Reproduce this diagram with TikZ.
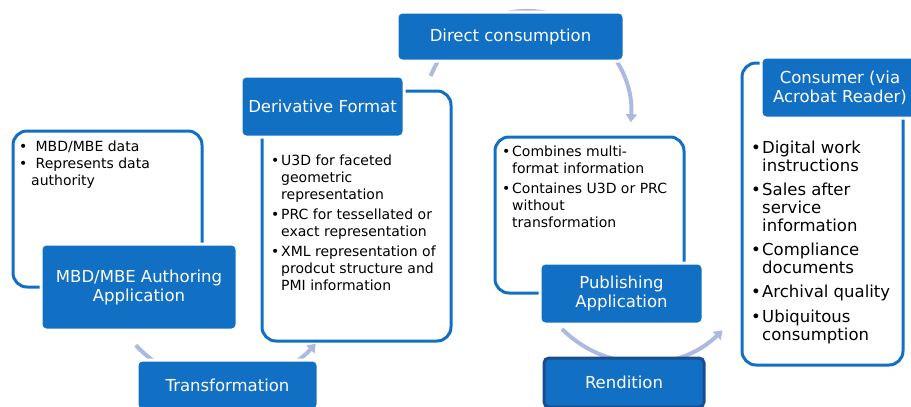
\documentclass[tikz,border=0pt]{standalone}
\usepackage{fontspec}
\setmainfont{DejaVu Sans}
\usetikzlibrary{arrows.meta}

\definecolor{boxblue}{RGB}{17,112,196}
\definecolor{arcblue}{RGB}{172,186,224}
\definecolor{rimblue}{RGB}{24,78,142}

% bullet and hanging indent of the lists
\newcommand\bul[1][10pt]{\makebox[#1][l]{\textbullet}}
\newcommand\hang[1][10pt]{\hspace*{#1}}

\begin{document}
\begin{tikzpicture}[x=1pt, y=-1pt,
    titlebox/.style={rectangle, rounded corners=5pt, fill=boxblue, draw=white,
      line width=3pt, text=white, align=center, inner sep=0pt,
      font=\fontsize{16.5}{19}\selectfont},
    infobox/.style={rectangle, rounded corners=14pt, draw=boxblue,
      line width=3pt, inner sep=0pt},
    infotext/.style={anchor=north west, align=left, inner sep=0pt,
      font=\fontsize{14}{17}\selectfont},
    flow/.style={arcblue, line width=4pt, -{Triangle[length=8pt,width=11pt]}}]

  \useasboundingbox (0,0) rectangle (911,407);

  % 1. Arcos entre as etapas (ficam por baixo das caixas)
  \coordinate (trStart) at (135.8,345.2);
  \coordinate (dcStart) at (430.6,76);
  \coordinate (rdStart) at (562,329);
  \draw [flow] (trStart) arc[start angle=137, end angle=42, radius=122];
  \draw [flow] (dcStart) arc[start angle=202, end angle=364, radius=104];
  \draw [flow] (rdStart) arc[start angle=135, end angle=46, radius=114.5];

  % 2. Caixas de contorno com as listas
  \node [infobox, minimum width=189pt, minimum height=156pt] (authInfo)  at (107.5,209) {};
  \node [infobox, minimum width=189pt, minimum height=250pt] (derivInfo) at (356.5,216) {};
  \node [infobox, minimum width=189pt, minimum height=156pt] (publInfo)  at (589.5,215) {};
  \node [infobox, minimum width=161pt, minimum height=302pt] (consInfo)  at (822.5,214) {};

  \node [infotext] (authText) at (19,141) {%
    \bul[12pt]\ MBD/MBE data\\
    \bul[12pt]\ Represents data\\
    \hang[12pt]authority};
  \node [infotext] (derivText) at (271,155) {%
    \bul U3D for faceted\\
    \hang geometric\\
    \hang representation\\[3pt]
    \bul PRC for tessellated or\\
    \hang exact representation\\[3pt]
    \bul XML representation of\\
    \hang prodcut structure and\\
    \hang PMI information};
  \node [infotext] (publText) at (502,146) {%
    \bul Combines multi-\\
    \hang format information\\[3pt]
    \bul Containes U3D or PRC\\
    \hang without\\
    \hang transformation};
  \node [infotext, font=\fontsize{16.5}{17.6}\selectfont] (consText) at (751,141) {%
    \bul[11pt]Digital work\\
    \hang[11pt]instructions\\[7pt]
    \bul[11pt]Sales after\\
    \hang[11pt]service\\
    \hang[11pt]information\\[7pt]
    \bul[11pt]Compliance\\
    \hang[11pt]documents\\[7pt]
    \bul[11pt]Archival quality\\[7pt]
    \bul[11pt]Ubiquitous\\
    \hang[11pt]consumption};

  % 3. Caixas preenchidas das etapas
  \node [titlebox, minimum width=196pt, minimum height=86pt] (auth)   at (139,287)   {MBD/MBE Authoring\\Application};
  \node [titlebox, minimum width=163pt, minimum height=61pt] (deriv)  at (322.5,106.5) {Derivative Format};
  \node [titlebox, minimum width=227pt, minimum height=49pt] (direct) at (510.5,36.5) {Direct consumption};
  \node [titlebox, minimum width=181pt, minimum height=50pt] (transf) at (227.5,385) {Transformation};
  \node [titlebox, minimum width=163pt, minimum height=61pt] (publ)   at (621.5,293.5) {Publishing\\Application};
  \node [titlebox, minimum width=158pt, minimum height=61pt] (cons)   at (840,87.5)  {Consumer (via\\Acrobat Reader)};
  \node [titlebox, draw=rimblue, minimum width=160pt, minimum height=49pt] (rend) at (624,382.5) {Rendition};

\end{tikzpicture}
\end{document}
